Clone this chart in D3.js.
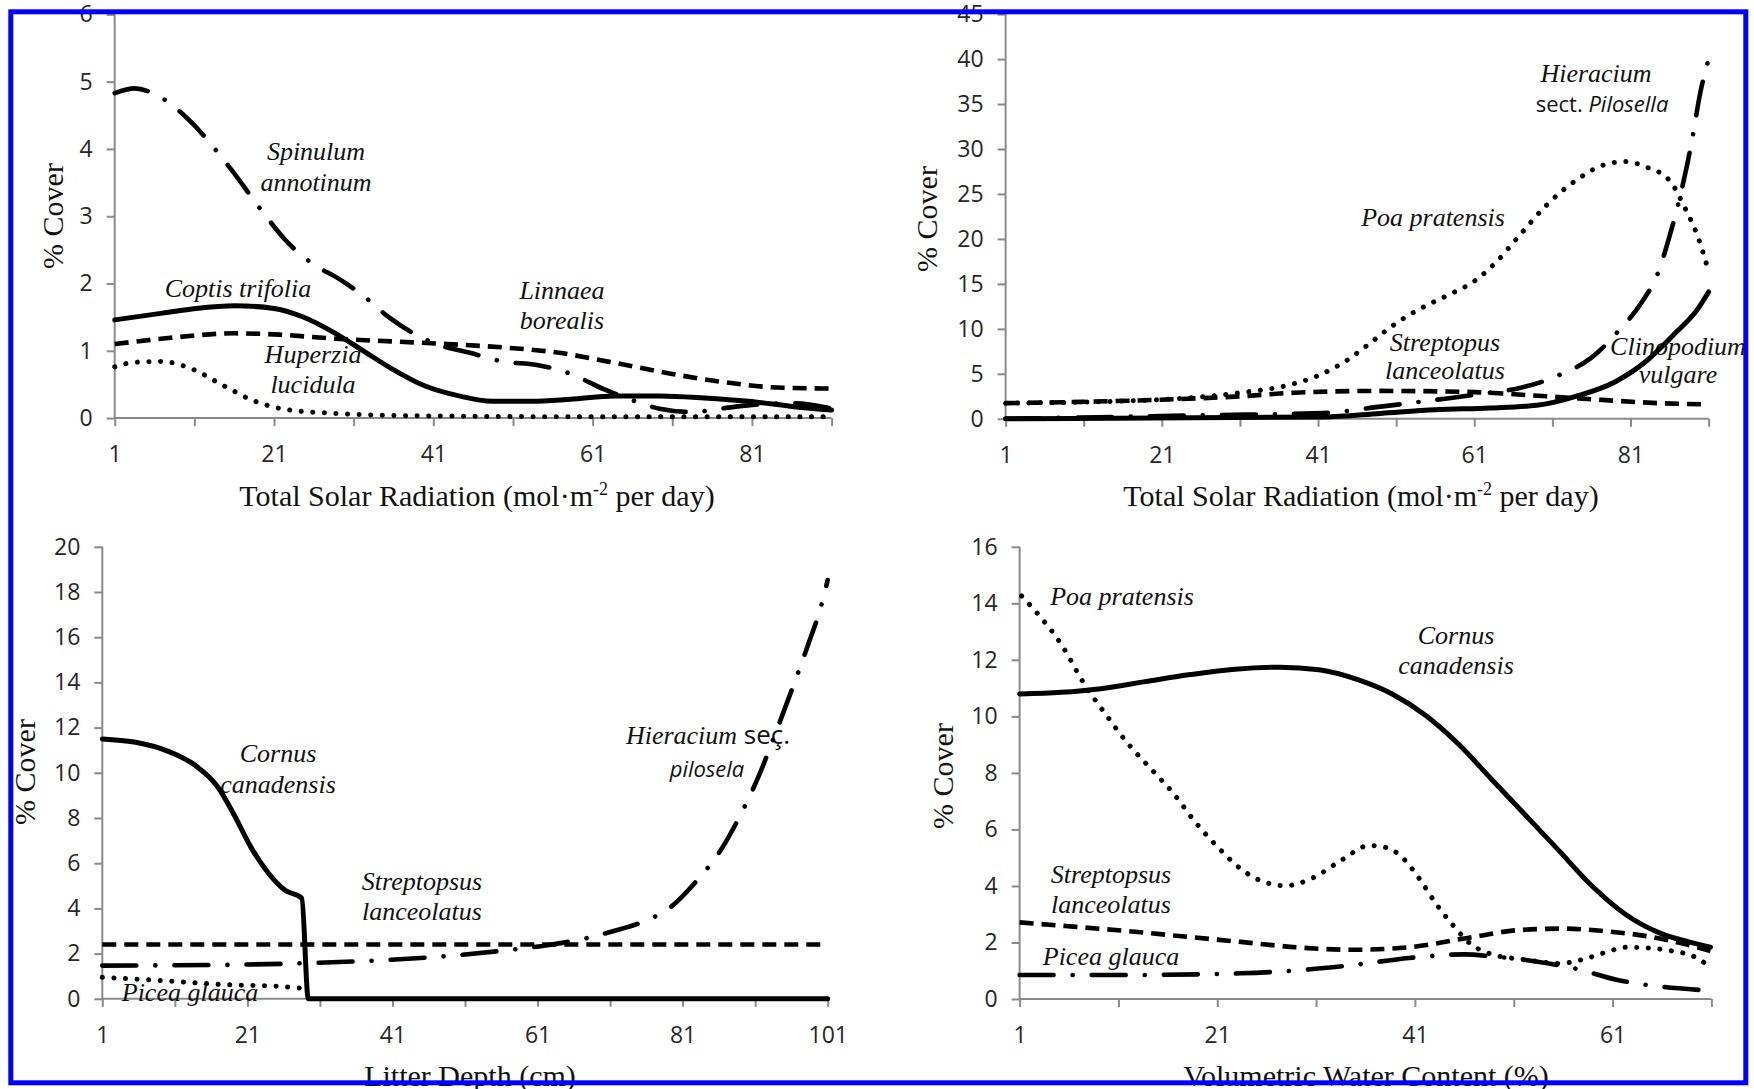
<!DOCTYPE html>
<html><head><meta charset="utf-8">
<script src="https://cdn.jsdelivr.net/npm/d3@7"></script>
<style>body{margin:0;background:#fff}svg{display:block}</style>
</head><body><svg id="c" width="1754" height="1089"></svg>
<script>
// ---------- DATA ----------
// Panel A: Total Solar Radiation (understory species)
const solarTicksA = [1, 11, 21, 31, 41, 51, 61, 71, 81, 91];
const solarLabelsA = [1, 21, 41, 61, 81];
const coverTicksA = [0, 1, 2, 3, 4, 5, 6];
const spinulumA = [[1,4.83],[3.5,4.9],[6.6,4.78],[10.5,4.41],[15.4,3.73],[19.6,3.06],[22.4,2.65],[25.9,2.29],[29,2.08],[32.2,1.82],[35.4,1.5],[38.5,1.26],[41.4,1.1],[45.6,0.97],[49.8,0.84],[54,0.79],[58.2,0.66],[62.4,0.43],[65.9,0.27],[69.4,0.14],[73.6,0.09],[77,0.14],[81.4,0.2],[86.3,0.22],[91,0.14]];
const coptisA = [[1,1.46],[7,1.56],[11.2,1.63],[16.1,1.67],[21,1.63],[24.5,1.51],[28.7,1.26],[32.2,1.0],[35.7,0.74],[39.9,0.48],[44.2,0.33],[48.4,0.25],[53.3,0.25],[58.2,0.28],[63.8,0.33],[69.4,0.33],[75,0.3],[80.6,0.25],[86.3,0.17],[91,0.12]];
const linnaeaA = [[1,1.1],[7.7,1.19],[16.1,1.26],[21.7,1.24],[28.7,1.18],[35.7,1.14],[42.8,1.1],[49.8,1.05],[56.8,0.97],[63.8,0.82],[70.8,0.66],[77.8,0.53],[84.9,0.45],[91,0.44]];
const huperziaA = [[1,0.76],[3.5,0.83],[7,0.84],[10.5,0.74],[14.7,0.48],[18.2,0.27],[22.4,0.13],[28.7,0.07],[35.7,0.04],[42.8,0.03],[60,0.02],[91,0.02]];

// Panel B: Total Solar Radiation (open-site species)
const solarTicksB = [1, 11, 21, 31, 41, 51, 61, 71, 81, 91];
const solarLabelsB = [1, 21, 41, 61, 81];
const coverTicksB = [0, 5, 10, 15, 20, 25, 30, 35, 40, 45];
const poaB = [[1,1.74],[20,2.1],[31,2.9],[37,3.7],[41,4.8],[44.5,6.4],[47.5,8.3],[50.3,10.2],[54,12.2],[57.5,13.7],[61,15.3],[64,17.6],[66.7,20.3],[70.3,23.8],[74,26.5],[77.5,28.2],[80.3,28.6],[83,28.0],[86,26.5],[88,23.4],[89.6,20.3],[91,16.4]];
const streptopusB = [[1,1.74],[20,2.1],[31,2.5],[38,2.9],[49,3.1],[59.6,3.0],[70.3,2.5],[77.4,2.1],[84.6,1.74],[91,1.6]];
const hieraciumB = [[1,0],[27,0.4],[41.7,0.65],[49,1.35],[56,2.1],[63,2.9],[66.7,3.4],[71.7,4.8],[76,6.8],[79.6,9.9],[82.4,12.9],[84.6,16.4],[86,20.3],[87.4,24.9],[88.9,31.1],[89.9,36.1],[91,40]];
const clinopodiumB = [[1,0],[41.7,0.2],[49,0.6],[56,1.0],[63,1.2],[69,1.5],[74,2.5],[79,4.1],[83,6.4],[86.7,9.5],[89.6,12.2],[91,14.1]];

// Panel C: Litter Depth
const litterTicksC = [1, 11, 21, 31, 41, 51, 61, 71, 81, 91, 101];
const litterLabelsC = [1, 21, 41, 61, 81, 101];
const coverTicksC = [0, 2, 4, 6, 8, 10, 12, 14, 16, 18, 20];
const cornusC = [[1,11.5],[5.4,11.36],[10,10.96],[13.8,10.33],[16.9,9.38],[19.2,8.12],[21.5,6.7],[23.8,5.6],[26.2,4.8],[28.5,4.45],[29.4,0],[101,0]];
const streptopsusC = [[1,2.4],[101,2.4]];
const hieraciumC = [[1,1.47],[17.7,1.5],[29.2,1.58],[40.8,1.73],[48.5,1.89],[56.2,2.13],[62.3,2.37],[67.7,2.68],[71.5,3.0],[75.4,3.39],[79.2,4.02],[83.1,5.28],[86.2,6.55],[89.2,8.28],[91.5,9.86],[93.8,11.75],[96.2,13.8],[98.5,15.85],[100,17.27],[101,18.53]];
const piceaC = [[1,0.95],[10,0.79],[17.7,0.63],[25.4,0.55],[28.5,0.47]];

// Panel D: Volumetric Water Content
const waterTicksD = [1, 11, 21, 31, 41, 51, 61, 71];
const waterLabelsD = [1, 21, 41, 61];
const coverTicksD = [0, 2, 4, 6, 8, 10, 12, 14, 16];
const cornusD = [[1,10.79],[5.2,10.85],[9.2,10.98],[13.7,11.23],[18.3,11.48],[22.8,11.67],[27.3,11.74],[31.3,11.65],[35.3,11.29],[38.7,10.79],[42.1,10.03],[45.4,9.02],[48.8,7.76],[52.2,6.5],[55.6,5.24],[59,3.97],[62.4,2.97],[65.8,2.33],[68.7,2.02],[70.9,1.83]];
const poaD = [[1.2,14.26],[3,13.56],[5.2,12.56],[7.5,11.17],[9.8,10.03],[12,9.02],[14.3,8.14],[16.6,7.26],[18.8,6.25],[21.1,5.36],[23.4,4.6],[25.6,4.16],[27.9,4.01],[30.7,4.29],[33.6,4.92],[36.4,5.43],[38.1,5.36],[39.8,4.98],[41.5,4.23],[43.2,3.34],[44.9,2.59],[46.6,1.96],[48.8,1.58],[52.2,1.39],[55.6,1.26],[57.9,1.39],[60.2,1.64],[62.4,1.83],[64.7,1.8],[67,1.7],[69.2,1.51],[70.4,1.26]];
const streptopsusD = [[1,2.71],[6.4,2.56],[12,2.4],[17.7,2.21],[23.4,2.02],[29,1.83],[34.7,1.74],[40.4,1.83],[46,2.14],[51.6,2.44],[56.2,2.49],[60.2,2.4],[64.7,2.21],[68.1,1.96],[70.9,1.7]];
const piceaD = [[1,0.85],[12,0.85],[23.4,0.91],[29,1.01],[34.7,1.2],[40.4,1.45],[46,1.58],[48.8,1.51],[53.4,1.32],[57.3,1.07],[61.3,0.69],[65.8,0.44],[69.8,0.32]];

// ---------- STYLE / LAYOUT ----------
const SERIF = "'Liberation Serif','Times New Roman',serif";
const SANS = "'Open Sans','Noto Sans',sans-serif";
const lineStyles = {
  solid:   {w:5,   dash:null,             cap:"round"},
  dashed:  {w:4.6, dash:"14,8",           cap:"butt"},
  dotted:  {w:5,   dash:"0.1,11.5",       cap:"round"},
  dashdot: {w:4.6, dash:"34,19,0.1,19",   cap:"round"}
};
const SI = (t)=>({t, f:SERIF, s:"italic"});
const SA = (t)=>({t, f:SANS, s:"normal"});
const SAI = (t)=>({t, f:SANS, s:"italic"});

const panels = [
  { px:[114.7,831.6], py:[418.1,14.4], xd:[1,91], yd:[0,6],
    xTicks:solarTicksA, xLabels:solarLabelsA, yTicks:coverTicksA,
    series:[[huperziaA,"dotted"],[linnaeaA,"dashed"],[coptisA,"solid"],[spinulumA,"dashdot"]],
    labels:[
      {x:316,y:160,parts:[SI("Spinulum")]},{x:316,y:191,parts:[SI("annotinum")]},
      {x:238,y:297,parts:[SI("Coptis trifolia")]},
      {x:562,y:299,parts:[SI("Linnaea")]},{x:562,y:329,parts:[SI("borealis")]},
      {x:313,y:363,parts:[SI("Huperzia")]},{x:313,y:393,parts:[SI("lucidula")]}
    ],
    xTitle:"solar", xt:[477,506], yt:[53,216] },
  { px:[1005.6,1708.6], py:[418.8,14.1], xd:[1,91], yd:[0,45],
    xTicks:solarTicksB, xLabels:solarLabelsB, yTicks:coverTicksB,
    series:[[poaB,"dotted"],[streptopusB,"dashed"],[clinopodiumB,"solid"],[hieraciumB,"dashdot"]],
    labels:[
      {x:1596,y:82,parts:[SI("Hieracium")]},
      {x:1602,y:112,size:22,parts:[SA("sect. "),SAI("Pilosella")]},
      {x:1433,y:226,parts:[SI("Poa pratensis")]},
      {x:1445,y:351,parts:[SI("Streptopus")]},{x:1445,y:379,parts:[SI("lanceolatus")]},
      {x:1678,y:355,parts:[SI("Clinopodium")]},{x:1678,y:383,parts:[SI("vulgare")]}
    ],
    xTitle:"solar", xt:[1361,506], yt:[927,219] },
  { px:[102.3,827.7], py:[998.8,546.8], xd:[1,101], yd:[0,20],
    xTicks:litterTicksC, xLabels:litterLabelsC, yTicks:coverTicksC,
    series:[[piceaC,"dotted"],[streptopsusC,"dashed"],[hieraciumC,"dashdot"],[cornusC,"solid"]],
    labels:[
      {x:278,y:762,parts:[SI("Cornus")]},{x:278,y:793,parts:[SI("canadensis")]},
      {x:422,y:890,parts:[SI("Streptopsus")]},{x:422,y:920,parts:[SI("lanceolatus")]},
      {x:708,y:744,parts:[SI("Hieracium"),SA(" seç.")]},
      {x:707,y:777,size:22,parts:[SAI("pilosela")]},
      {x:190,y:1001,parts:[SI("Picea glauca")]}
    ],
    xTitle:"Litter Depth (cm)", xt:[470,1086], yt:[25,772] },
  { px:[1019.6,1711.4], py:[999,546.8], xd:[1,71], yd:[0,16],
    xTicks:waterTicksD, xLabels:waterLabelsD, yTicks:coverTicksD,
    series:[[poaD,"dotted"],[streptopsusD,"dashed"],[piceaD,"dashdot"],[cornusD,"solid"]],
    labels:[
      {x:1122,y:605,parts:[SI("Poa pratensis")]},
      {x:1456,y:644,parts:[SI("Cornus")]},{x:1456,y:674,parts:[SI("canadensis")]},
      {x:1111,y:883,parts:[SI("Streptopsus")]},{x:1111,y:913,parts:[SI("lanceolatus")]},
      {x:1111,y:965,parts:[SI("Picea glauca")]}
    ],
    xTitle:"Volumetric Water Content (%)", xt:[1366,1086], yt:[943,776] }
];

const svg = d3.select("#c");
svg.append("rect").attr("width",1754).attr("height",1089).attr("fill","#fff");
const AXIS = "#8a8a8a";

panels.forEach(p => {
  const x = d3.scaleLinear().domain(p.xd).range(p.px);
  const y = d3.scaleLinear().domain(p.yd).range(p.py);
  const g = svg.append("g");

  // y axis
  const ya = d3.axisLeft(y).tickValues(p.yTicks).tickSize(8).tickPadding(14).tickFormat(d3.format("d"));
  const yg = g.append("g").attr("transform",`translate(${p.px[0]},0)`).call(ya);
  // x axis
  const xa = d3.axisBottom(x).tickValues(p.xTicks).tickSize(8).tickPadding(20)
     .tickFormat(d => p.xLabels.includes(d) ? d : "");
  const xg = g.append("g").attr("transform",`translate(0,${p.py[0]})`).call(xa);
  [yg,xg].forEach(a=>{
    a.select(".domain").attr("stroke",AXIS).attr("stroke-width",2);
    a.selectAll(".tick line").attr("stroke",AXIS).attr("stroke-width",2);
    a.selectAll(".tick text").attr("fill","#262626").style("font-family",SANS).style("font-size","23px");
  });
  // remove outer tick stubs of domain paths (make plain lines)
  yg.select(".domain").attr("d",`M0,${p.py[0]}V${p.py[1]}`);
  xg.select(".domain").attr("d",`M${p.px[0]},0H${p.px[1]}`);

  // y title
  g.append("text").attr("transform",`translate(${p.yt[0]+10},${p.yt[1]}) rotate(-90)`)
    .attr("text-anchor","middle").style("font-family",SERIF).style("font-size","30px")
    .attr("fill","#111").text("% Cover");
  // x title
  const xt = g.append("text").attr("x",p.xt[0]).attr("y",p.xt[1]).attr("text-anchor","middle")
    .style("font-family",SERIF).style("font-size","30px").attr("fill","#111");
  if (p.xTitle === "solar") {
    xt.append("tspan").text("Total Solar Radiation (mol·m");
    xt.append("tspan").attr("dy",-11).style("font-size","18px").text("-2");
    xt.append("tspan").attr("dy",11).text(" per day)");
  } else xt.text(p.xTitle);

  // species labels
  p.labels.forEach(l => {
    const t = g.append("text").attr("x",l.x).attr("y",l.y).attr("text-anchor","middle")
      .style("font-size",(l.size||26)+"px").attr("fill","#111");
    l.parts.forEach(pt => t.append("tspan").style("font-family",pt.f).style("font-style",pt.s).text(pt.t));
  });

  // lines
  const line = d3.line().x(d=>x(d[0])).y(d=>y(d[1])).curve(d3.curveMonotoneX);
  p.series.forEach(([data,st]) => {
    const s = lineStyles[st];
    g.append("path").attr("d",line(data)).attr("fill","none").attr("stroke","#000")
      .attr("stroke-width",s.w).attr("stroke-linecap",s.cap).attr("stroke-linejoin","round")
      .attr("stroke-dasharray",s.dash);
  });
});

// blue frame
svg.append("rect").attr("x",10.8).attr("y",11.8).attr("width",1735).attr("height",1071)
  .attr("fill","none").attr("stroke","#0000ff").attr("stroke-width",5);
</script></body></html>
